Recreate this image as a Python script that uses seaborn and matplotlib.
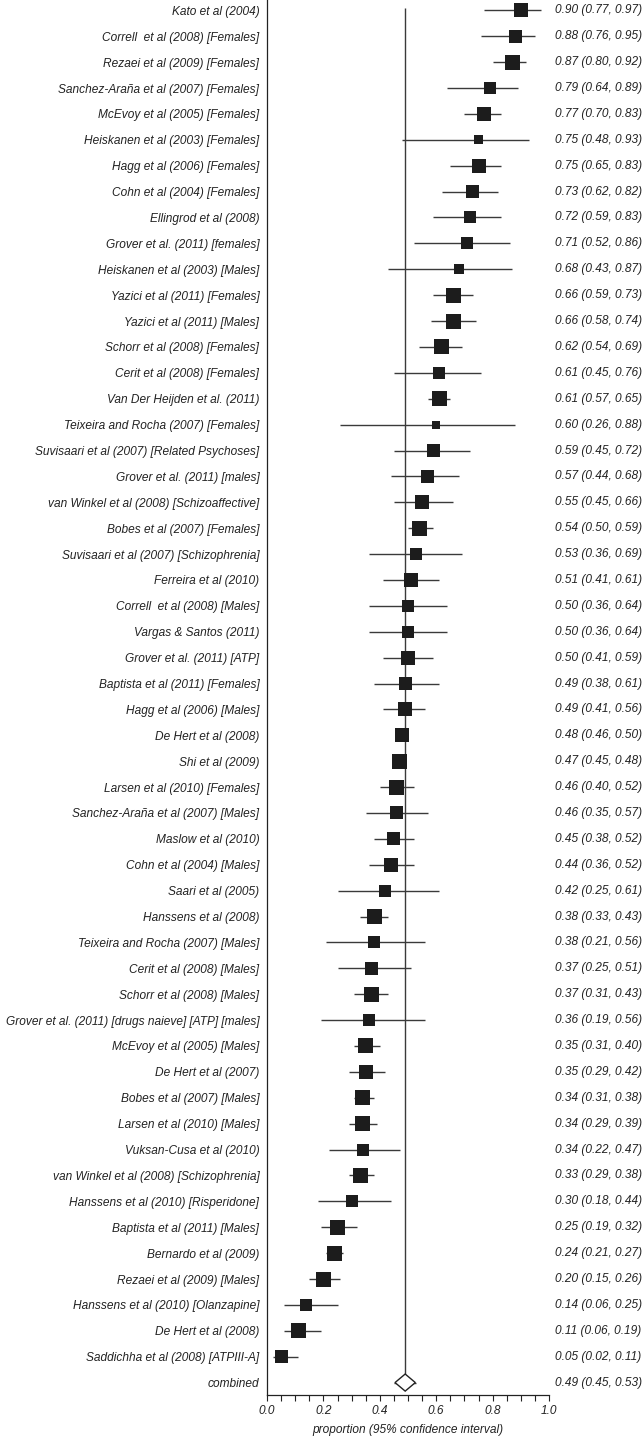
import numpy as np
import pandas as pd
import seaborn as sns
from matplotlib import pyplot as plt
from matplotlib.ticker import MultipleLocator

# badania i proporcje (95% CI)
studies = [
    "Kato et al (2004)", "Correll  et al (2008) [Females]", "Rezaei et al (2009) [Females]",
    "Sanchez-Araña et al (2007) [Females]", "McEvoy et al (2005) [Females]",
    "Heiskanen et al (2003) [Females]", "Hagg et al (2006) [Females]", "Cohn et al (2004) [Females]",
    "Ellingrod et al (2008)", "Grover et al. (2011) [females]", "Heiskanen et al (2003) [Males]",
    "Yazici et al (2011) [Females]", "Yazici et al (2011) [Males]", "Schorr et al (2008) [Females]",
    "Cerit et al (2008) [Females]", "Van Der Heijden et al. (2011)",
    "Teixeira and Rocha (2007) [Females]", "Suvisaari et al (2007) [Related Psychoses]",
    "Grover et al. (2011) [males]", "van Winkel et al (2008) [Schizoaffective]",
    "Bobes et al (2007) [Females]", "Suvisaari et al (2007) [Schizophrenia]", "Ferreira et al (2010)",
    "Correll  et al (2008) [Males]", "Vargas & Santos (2011)", "Grover et al. (2011) [ATP]",
    "Baptista et al (2011) [Females]", "Hagg et al (2006) [Males]", "De Hert et al (2008)",
    "Shi et al (2009)", "Larsen et al (2010) [Females]", "Sanchez-Araña et al (2007) [Males]",
    "Maslow et al (2010)", "Cohn et al (2004) [Males]", "Saari et al (2005)",
    "Hanssens et al (2008)", "Teixeira and Rocha (2007) [Males]", "Cerit et al (2008) [Males]",
    "Schorr et al (2008) [Males]", "Grover et al. (2011) [drugs naieve] [ATP] [males]",
    "McEvoy et al (2005) [Males]", "De Hert et al (2007)", "Bobes et al (2007) [Males]",
    "Larsen et al (2010) [Males]", "Vuksan-Cusa et al (2010)",
    "van Winkel et al (2008) [Schizophrenia]", "Hanssens et al (2010) [Risperidone]",
    "Baptista et al (2011) [Males]", "Bernardo et al (2009)", "Rezaei et al (2009) [Males]",
    "Hanssens et al (2010) [Olanzapine]", "De Hert et al (2008)", "Saddichha et al (2008) [ATPIII-A]",
]
prop = [0.90, 0.88, 0.87, 0.79, 0.77, 0.75, 0.75, 0.73, 0.72, 0.71, 0.68, 0.66, 0.66, 0.62,
        0.61, 0.61, 0.60, 0.59, 0.57, 0.55, 0.54, 0.53, 0.51, 0.50, 0.50, 0.50, 0.49, 0.49,
        0.48, 0.47, 0.46, 0.46, 0.45, 0.44, 0.42, 0.38, 0.38, 0.37, 0.37, 0.36, 0.35, 0.35,
        0.34, 0.34, 0.34, 0.33, 0.30, 0.25, 0.24, 0.20, 0.14, 0.11, 0.05]
ci_low = [0.77, 0.76, 0.80, 0.64, 0.70, 0.48, 0.65, 0.62, 0.59, 0.52, 0.43, 0.59, 0.58, 0.54,
          0.45, 0.57, 0.26, 0.45, 0.44, 0.45, 0.50, 0.36, 0.41, 0.36, 0.36, 0.41, 0.38, 0.41,
          0.46, 0.45, 0.40, 0.35, 0.38, 0.36, 0.25, 0.33, 0.21, 0.25, 0.31, 0.19, 0.31, 0.29,
          0.31, 0.29, 0.22, 0.29, 0.18, 0.19, 0.21, 0.15, 0.06, 0.06, 0.02]
ci_high = [0.97, 0.95, 0.92, 0.89, 0.83, 0.93, 0.83, 0.82, 0.83, 0.86, 0.87, 0.73, 0.74, 0.69,
           0.76, 0.65, 0.88, 0.72, 0.68, 0.66, 0.59, 0.69, 0.61, 0.64, 0.64, 0.59, 0.61, 0.56,
           0.50, 0.48, 0.52, 0.57, 0.52, 0.52, 0.61, 0.43, 0.56, 0.51, 0.43, 0.56, 0.40, 0.42,
           0.38, 0.39, 0.47, 0.38, 0.44, 0.32, 0.27, 0.26, 0.25, 0.19, 0.11]
# bok kwadracika w px (waga badania) - oszacowane
box_px = [14, 13, 15, 12, 14, 9, 14, 13, 12, 12, 10, 15, 15, 15, 12, 15, 8, 13, 13, 14, 15,
          12, 14, 12, 12, 14, 13, 14, 14, 15, 15, 13, 13, 14, 12, 15, 12, 13, 15, 12, 15, 14,
          15, 15, 12, 15, 12, 15, 15, 15, 12, 15, 13]

combined_label = "combined"
combined = (0.49, 0.45, 0.53)

xticks = [0.0, 0.2, 0.4, 0.6, 0.8, 1.0]

df = pd.DataFrame({"study": studies, "p": prop, "lo": ci_low, "hi": ci_high})
df["row"] = np.arange(len(df))
df["s"] = (np.array(box_px) * 72 / 100.0) ** 2
comb_row = len(df)

sns.set_style("ticks")
plt.rcParams['font.family'] = ['Liberation Sans', 'DejaVu Sans']
fs = 8.6
txt_col = "#222222"

fig = plt.figure(figsize=(6.44, 14.39), dpi=100)
ax = fig.add_axes([267 / 644, 1 - 1395 / 1439, (549 - 267) / 644, 1395 / 1439])

# linie CI
ax.hlines(df["row"], df["lo"], df["hi"], color="#3a3a3a", lw=1.0, zorder=2)
# pionowa linia na wyniku laczonym
ax.vlines(combined[0], -0.1, comb_row - 0.33, color="#3a3a3a", lw=1.0, zorder=1)

sns.scatterplot(data=df, x="p", y="row", size="s", sizes=(df["s"].min(), df["s"].max()),
                size_norm=(df["s"].min(), df["s"].max()), marker="s", color="#1c1c1c",
                edgecolor="none", legend=False, ax=ax, zorder=3)

# diament dla combined
c, cl, ch = combined
ax.hlines(comb_row, cl, ch, color="#3a3a3a", lw=1.0, zorder=2)
dx = (ch - cl) * 0.45
ax.fill([c - dx, c, c + dx, c], [comb_row, comb_row - 0.33, comb_row, comb_row + 0.33],
        facecolor="white", edgecolor="#222222", lw=1.0, zorder=4)

ax.set_xlim(0, 1)
ax.set_ylim(comb_row + 0.48, -0.4)
ax.set_yticks(list(df["row"]) + [comb_row])
ax.set_yticklabels(studies + [combined_label], fontsize=fs, style="italic", color=txt_col)
ax.tick_params(axis="y", length=0, pad=5.5)

ax.set_xticks(xticks)
ax.set_xticklabels([f"{v:.1f}" for v in xticks], fontsize=fs, style="italic", color=txt_col)
ax.xaxis.set_minor_locator(MultipleLocator(0.05))
ax.tick_params(axis="x", which="both", length=4, width=0.8, direction="out", pad=3, color=txt_col)
ax.set_xlabel("proportion (95% confidence interval)", fontsize=fs, style="italic",
              color=txt_col, labelpad=5)
ax.set_ylabel("")

sns.despine(ax=ax, top=True, right=True)
for sp in ["left", "bottom"]:
    ax.spines[sp].set_linewidth(0.9)
    ax.spines[sp].set_color(txt_col)

# tekst z wartosciami po prawej
trans = ax.get_yaxis_transform()
for r, p_, l_, h_ in zip(df["row"], prop, ci_low, ci_high):
    ax.text(1.021, r, f"{p_:.2f} ({l_:.2f}, {h_:.2f})", transform=trans, ha="left",
            va="center", fontsize=fs, style="italic", color=txt_col, clip_on=False)
ax.text(1.021, comb_row, f"{c:.2f} ({cl:.2f}, {ch:.2f})", transform=trans, ha="left",
        va="center", fontsize=fs, style="italic", color=txt_col, clip_on=False)

fig.savefig("out.png", dpi=100)
